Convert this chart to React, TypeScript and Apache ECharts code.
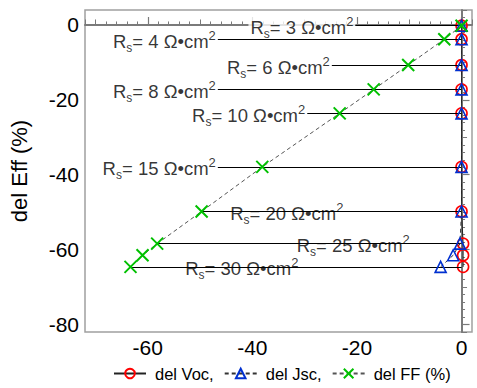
import React, { useEffect, useRef } from "react";
import * as echarts from "echarts";

// Data points (x = delta of parameter in %, y = delta efficiency in %)
const effValues = [-0.2, -3.8, -10.7, -17.2, -23.6, -37.9, -49.8, -58.4, -61.5, -64.6];
const delVoc = [0, 0, 0, 0, 0, 0, 0, 0.3, 0.3, 0.3];
const delJsc = [0, 0, 0, 0, 0, 0, 0, -0.3, -1.6, -4.0];
const delFF = [0, -3.3, -10.2, -16.8, -23.3, -38.1, -49.7, -58.2, -61.0, -63.3];

// Series-resistance annotations
const rsValues = [3, 4, 6, 8, 10, 15, 20, 25, 30];
const rsEff = [-0.2, -3.8, -10.7, -17.2, -23.6, -37.9, -49.8, -58.4, -64.6];
const rsLineStart = [-20.3, -46.6, -24.8, -46.6, -29.5, -46.6, -49.7, -58.2, -63.3];
const rsLabelEnd = [-20.3, -46.6, -24.8, -46.6, -29.5, -46.6, -22.2, -9.5, -30.8];

const seriesNames = ["del Voc,", "del Jsc,", "del FF (%)"];

const FONT = "'Liberation Sans', Arial, sans-serif";
const AXIS_GREY = "#7a7a7a";

export default function App() {
  const ref = useRef<HTMLDivElement>(null);

  useEffect(() => {
    if (!ref.current) return;
    const chart = echarts.init(ref.current, undefined, { renderer: "svg" });

    const toPts = (xs: number[]) => xs.map((x, i) => [x, effValues[i]]);

    const xBase = { type: "value", min: -72, max: 2, gridIndex: 0, position: "bottom", splitLine: { show: false } };
    const yBase = { type: "value", min: -82, max: 4, gridIndex: 0, position: "left", splitLine: { show: false } };

    const hiddenTicks = (len: number) => ({
      axisLine: { show: false },
      axisLabel: { show: false },
      axisTick: { show: true, inside: true, length: len, lineStyle: { color: AXIS_GREY, width: 1 } },
    });

    const option: any = {
      animation: false,
      textStyle: { fontFamily: FONT },
      grid: {
        left: 84,
        right: 5,
        top: 10,
        bottom: 56,
        show: true,
        borderColor: "#a0a0a0",
        borderWidth: 1.5,
        backgroundColor: "transparent",
      },
      legend: {
        data: seriesNames,
        bottom: 1,
        left: 108,
        itemWidth: 32,
        itemHeight: 12,
        itemGap: 10,
        textStyle: { fontSize: 16.5, color: "#000", fontFamily: FONT, padding: [0, 0, 0, 4] },
      },
      xAxis: [
        {
          ...xBase,
          splitNumber: 4,
          axisLine: { show: true, lineStyle: { color: AXIS_GREY, width: 2 } },
          axisTick: { show: true, inside: true, length: 8, lineStyle: { color: AXIS_GREY, width: 1.2 } },
          axisLabel: {
            showMinLabel: false,
            showMaxLabel: false,
            fontSize: 21,
            color: "#000",
            margin: 5,
            fontFamily: FONT,
          },
        },
        { ...xBase, splitNumber: 7, ...hiddenTicks(5.5) },
        { ...xBase, interval: 2, ...hiddenTicks(3.5) },
      ],
      yAxis: [
        {
          ...yBase,
          splitNumber: 5,
          name: "del Eff (%)",
          nameLocation: "middle",
          nameGap: 55,
          nameTextStyle: { fontSize: 22, color: "#000", fontFamily: FONT },
          axisLine: { show: true, lineStyle: { color: AXIS_GREY, width: 2 } },
          axisTick: { show: true, inside: true, length: 8, lineStyle: { color: AXIS_GREY, width: 1.2 } },
          axisLabel: {
            showMinLabel: false,
            showMaxLabel: false,
            fontSize: 21,
            color: "#000",
            margin: 6,
            fontFamily: FONT,
          },
        },
        { ...yBase, splitNumber: 9, ...hiddenTicks(5.5) },
        { ...yBase, interval: 2, ...hiddenTicks(3.5) },
      ],
      series: [
        {
          name: "rsLines",
          type: "line",
          data: [],
          z: 1,
          silent: true,
          markLine: {
            silent: true,
            symbol: "none",
            animation: false,
            label: { show: false },
            lineStyle: { color: "#000", width: 1, type: "solid" },
            emphasis: { disabled: true },
            data: rsEff.map((y, i) => [{ coord: [rsLineStart[i], y] }, { coord: [0, y] }]),
          },
        },
        {
          name: "rsLabels",
          type: "scatter",
          z: 3,
          silent: true,
          symbolSize: 0,
          data: rsEff.map((y, i) => ({ value: [rsLabelEnd[i], y], rs: rsValues[i] })),
          label: {
            show: true,
            position: "left",
            distance: 0,
            offset: [0, 2],
            backgroundColor: "#fff",
            padding: [0, 2, 0, 2],
            formatter: (p: any) => `R{sub|s}= ${p.data.rs} Ω•cm{sup|2}`,
            fontSize: 18.5,
            lineHeight: 25,
            color: "#000",
            fontFamily: FONT,
            rich: {
              sub: { fontSize: 12, verticalAlign: "bottom", lineHeight: 12, color: "#000", fontFamily: FONT },
              sup: { fontSize: 13, verticalAlign: "top", lineHeight: 11, color: "#000", fontFamily: FONT },
            },
          },
        },
        {
          name: seriesNames[0],
          type: "line",
          z: 4,
          data: toPts(delVoc),
          symbol: "circle",
          symbolSize: 11,
          lineStyle: { color: "#222", width: 1, type: "solid" },
          itemStyle: { color: "rgba(255,255,255,0)", borderColor: "#ff0000", borderWidth: 1.6 },
        },
        {
          name: seriesNames[1],
          type: "line",
          z: 5,
          data: toPts(delJsc),
          symbol: "triangle",
          symbolSize: 11,
          lineStyle: { color: "#333", width: 1, type: [4, 3] },
          itemStyle: { color: "rgba(255,255,255,0)", borderColor: "#0030d0", borderWidth: 1.6 },
        },
        {
          name: seriesNames[2],
          type: "line",
          z: 6,
          data: toPts(delFF),
          symbol: "path://M0,0L10,10M0,10L10,0",
          symbolSize: 12,
          lineStyle: { color: "#555", width: 1, type: [4, 3] },
          itemStyle: { color: "rgba(255,255,255,0)", borderColor: "#00c000", borderWidth: 2 },
        },
      ],
    };

    chart.setOption(option);
    return () => chart.dispose();
  }, []);

  return (
    <div
      ref={ref}
      style={{ position: "absolute", left: 0, top: 0, width: 477, height: 388, background: "#fff" }}
    />
  );
}
